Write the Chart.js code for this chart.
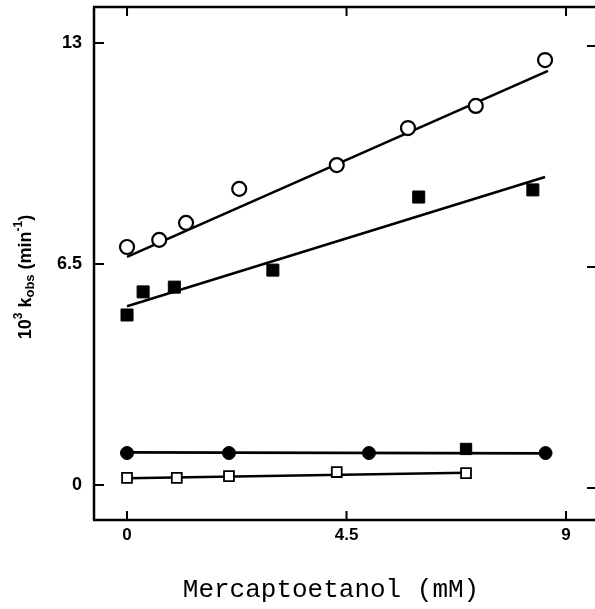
<!DOCTYPE html>
<html>
<head>
<meta charset="utf-8">
<script src="https://cdn.jsdelivr.net/npm/chart.js@4"></script>
<style>
html,body{margin:0;padding:0;background:#fff;}
#wrap{width:595px;height:609px;position:relative;}
</style>
</head>
<body>
<div id="wrap"><canvas id="c" width="595" height="609"></canvas></div>
<script>
// ---- data ----
const xTicks = [0, 4.5, 9];
const yTicks = [0, 6.5, 13];
const xTickLabels = ['0', '4.5', '9'];
const yTickLabels = ['0', '6.5', '13'];

const openCircleX = [0, 0.66, 1.21, 2.30, 4.30, 5.76, 7.15, 8.57];
const openCircleY = [7.00, 7.21, 7.71, 8.71, 9.41, 10.50, 11.15, 12.50];
const openCircleFitX = [0, 8.63];
const openCircleFitY = [6.71, 12.18];

const filledSquareX = [0, 0.33, 0.97, 2.99, 5.98, 8.32];
const filledSquareY = [5.00, 5.68, 5.82, 6.32, 8.47, 8.68];
const filledSquareFitX = [0, 8.57];
const filledSquareFitY = [5.26, 9.06];

const filledCircleX = [0, 2.09, 4.96, 6.95, 8.58];
const filledCircleY = [0.94, 0.94, 0.94, 1.06, 0.94];
const filledCircleStyle = ['circle', 'circle', 'circle', 'rect', 'circle'];
const filledCircleFitX = [0, 8.58];
const filledCircleFitY = [0.96, 0.93];

const openSquareX = [0, 1.02, 2.09, 4.30, 6.95];
const openSquareY = [0.21, 0.21, 0.26, 0.38, 0.35];
const openSquareFitX = [0, 6.95];
const openSquareFitY = [0.20, 0.36];

const xTitle = 'Mercaptoetanol (mM)';

function pts(xs, ys) { return xs.map((x, i) => ({x: x, y: ys[i]})); }

function fit(xs, ys) {
  return {type: 'line', data: pts(xs, ys), borderColor: '#000', borderWidth: 2.6,
          pointRadius: 0, fill: false, order: 2};
}
function scatter(xs, ys, style, fillCol, radius, bw) {
  return {type: 'scatter', data: pts(xs, ys), pointStyle: style, pointRadius: radius,
          pointBackgroundColor: fillCol, pointBorderColor: '#000', pointBorderWidth: bw,
          showLine: false, order: 1};
}

const SANS = '"Liberation Sans", Arial, sans-serif';

const framePlugin = {
  id: 'frame',
  afterDraw(chart) {
    const ctx = chart.ctx;
    const a = chart.chartArea;
    const xs = chart.scales.x, ys = chart.scales.y;
    ctx.save();
    ctx.strokeStyle = '#000';
    ctx.lineWidth = 2.5;
    ctx.beginPath();
    ctx.moveTo(a.left, a.top); ctx.lineTo(a.left, a.bottom);
    ctx.moveTo(a.left - 1, a.bottom); ctx.lineTo(595, a.bottom);
    ctx.moveTo(a.left - 1, a.top); ctx.lineTo(595, a.top);
    ctx.stroke();
    ctx.lineWidth = 2;
    ctx.beginPath();
    yTicks.forEach(v => {
      const p = ys.getPixelForValue(v);
      ctx.moveTo(a.left, p); ctx.lineTo(a.left + 10, p);
      ctx.moveTo(587, p + 3); ctx.lineTo(595, p + 3);
    });
    xTicks.forEach(v => {
      const p = xs.getPixelForValue(v);
      ctx.moveTo(p, a.bottom); ctx.lineTo(p, a.bottom - 9);
      ctx.moveTo(p, a.top); ctx.lineTo(p, a.top + 9);
    });
    ctx.stroke();

    // tick labels
    ctx.fillStyle = '#000';
    ctx.font = 'bold 18px ' + SANS;
    ctx.textAlign = 'right';
    ctx.textBaseline = 'middle';
    yTicks.forEach((v, i) => ctx.fillText(yTickLabels[i], 82, ys.getPixelForValue(v)));
    ctx.font = 'bold 17px ' + SANS;
    ctx.textAlign = 'center';
    xTicks.forEach((v, i) => ctx.fillText(xTickLabels[i], xs.getPixelForValue(v), 535));

    // x title
    ctx.font = '26px "Liberation Mono", "DejaVu Sans Mono", monospace';
    ctx.textAlign = 'center';
    ctx.textBaseline = 'middle';
    ctx.fillText(xTitle, 331, 590);

    // y title with super/subscripts, rotated
    ctx.translate(26, 277);
    ctx.rotate(-Math.PI / 2);
    const parts = [
      {t: '10', s: 18, dy: 0},
      {t: '3', s: 12, dy: -7},
      {t: ' k', s: 18, dy: 0},
      {t: 'obs', s: 13, dy: 4},
      {t: ' (min', s: 18, dy: 0},
      {t: '-1', s: 12, dy: -7},
      {t: ')', s: 18, dy: 0}
    ];
    let total = 0;
    parts.forEach(p => { ctx.font = 'bold ' + p.s + 'px ' + SANS; p.w = ctx.measureText(p.t).width; total += p.w; });
    let cx = -total / 2;
    ctx.textAlign = 'left';
    parts.forEach(p => {
      ctx.font = 'bold ' + p.s + 'px ' + SANS;
      ctx.fillText(p.t, cx, p.dy);
      cx += p.w;
    });
    ctx.restore();
  }
};

new Chart(document.getElementById('c'), {
  data: {
    datasets: [
      fit(openCircleFitX, openCircleFitY),
      fit(filledSquareFitX, filledSquareFitY),
      fit(filledCircleFitX, filledCircleFitY),
      fit(openSquareFitX, openSquareFitY),
      scatter(openCircleX, openCircleY, 'circle', '#fff', 7, 2.2),
      scatter(filledSquareX, filledSquareY, 'rect', '#000', 8.5, 1),
      Object.assign(scatter(filledCircleX, filledCircleY, filledCircleStyle, '#000', 6.5, 1),
                    {pointRadius: filledCircleStyle.map(s => s === 'rect' ? 8 : 6.5)}),
      scatter(openSquareX, openSquareY, 'rect', '#fff', 7, 1.8)
    ]
  },
  options: {
    responsive: false,
    animation: false,
    devicePixelRatio: 1,
    layout: {autoPadding: false, padding: {top: 7, right: 0, left: 0, bottom: 0}},
    plugins: {legend: {display: false}, tooltip: {enabled: false}},
    scales: {
      x: {
        type: 'linear', min: -0.677, max: 9.594,
        afterBuildTicks: s => { s.ticks = xTicks.map(v => ({value: v})); },
        afterFit: s => { s.height = 89; s.paddingLeft = 0; s.paddingRight = 0; },
        grid: {display: false, drawTicks: false},
        border: {display: false},
        ticks: {display: false}
      },
      y: {
        type: 'linear', min: -1.03, max: 14.06,
        afterBuildTicks: s => { s.ticks = yTicks.map(v => ({value: v})); },
        afterFit: s => { s.width = 94; s.paddingTop = 0; s.paddingBottom = 0; },
        grid: {display: false, drawTicks: false},
        border: {display: false},
        ticks: {display: false}
      }
    }
  },
  plugins: [framePlugin]
});
</script>
</body>
</html>
